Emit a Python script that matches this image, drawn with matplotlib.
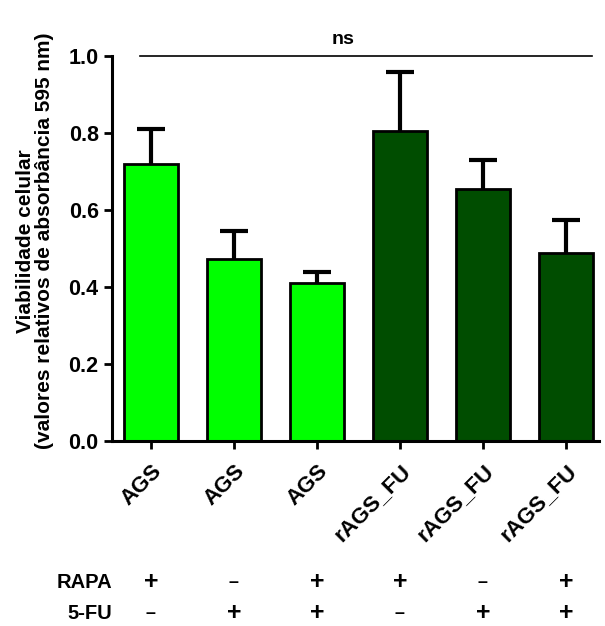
import matplotlib
matplotlib.use("Agg")
import matplotlib.pyplot as plt

plt.rcParams['font.family'] = ['Liberation Sans', 'DejaVu Sans']
plt.rcParams['font.weight'] = 'bold'

# Cell viability data (mean and upper SEM)
groups = ["AGS", "AGS", "AGS", "rAGS_FU", "rAGS_FU", "rAGS_FU"]
viability = [0.719, 0.473, 0.411, 0.805, 0.655, 0.489]
error_up = [0.092, 0.072, 0.029, 0.154, 0.074, 0.084]
bar_colors = ["#00FF00", "#00FF00", "#00FF00", "#004D00", "#004D00", "#004D00"]
rapa = ["+", "–", "+", "+", "–", "+"]
fu5 = ["–", "+", "+", "–", "+", "+"]
yticks = [0.0, 0.2, 0.4, 0.6, 0.8, 1.0]

fig = plt.figure(figsize=(6.05, 6.26), dpi=100)
ax = fig.add_axes([0.185, 0.2955, 0.805, 0.615])

x = list(range(len(groups)))
tops = [v + e for v, e in zip(viability, error_up)]

# upper-only error bars, drawn behind the bars
ax.vlines(x, viability, tops, color="black", linewidth=3.0, zorder=1)
ax.plot(x, tops, linestyle="none", marker="_", markersize=20,
        markeredgewidth=3.0, color="black", zorder=1)
ax.bar(x, viability, width=0.65, color=bar_colors, edgecolor="black",
       linewidth=2.0, zorder=2)

ax.set_xlim(-0.47, 5.4)
ax.set_ylim(0, 1.0)
ax.set_yticks(yticks)
ax.set_yticklabels([f"{v:.1f}" for v in yticks])
ax.set_xticks(x)
ax.set_xticklabels(groups, rotation=45, ha="right", va="top",
                   rotation_mode="anchor", fontsize=16, fontweight="bold")
ax.tick_params(axis="y", labelsize=15.5, width=2, length=6)
ax.tick_params(axis="x", width=2, length=6, pad=8)
for lab in ax.get_yticklabels():
    lab.set_fontweight("bold")

for side in ("top", "right"):
    ax.spines[side].set_visible(False)
for side in ("left", "bottom"):
    ax.spines[side].set_linewidth(2.2)

ax.set_ylabel("Viabilidade celular\n(valores relativos de absorbância 595 nm)",
              fontsize=15, fontweight="bold", linespacing=1.0)
ax.yaxis.set_label_coords(-0.119, 0.52)

# significance bar
ax.plot([-0.13, 5.32], [1.0, 1.0], color="black", linewidth=1.2, clip_on=False)
ax.text(2.32, 1.042, "ns", ha="center", va="center", fontsize=14,
        fontweight="bold", transform=ax.get_xaxis_transform(), clip_on=False)

# treatment table below the axis
trans = ax.get_xaxis_transform()
row_y = [-0.367, -0.448]
for label, yy in zip(["RAPA", "5-FU"], row_y):
    ax.text(-0.47, yy, label, ha="right", va="center", fontsize=14.5,
            fontweight="bold", transform=trans, clip_on=False)
for i in x:
    for signs, yy in zip([rapa, fu5], row_y):
        s = signs[i]
        ax.text(i, yy, s, ha="center", va="center",
                fontsize=18 if s == "+" else 13, fontweight="bold",
                transform=trans, clip_on=False)

fig.savefig("out.png", dpi=100)
